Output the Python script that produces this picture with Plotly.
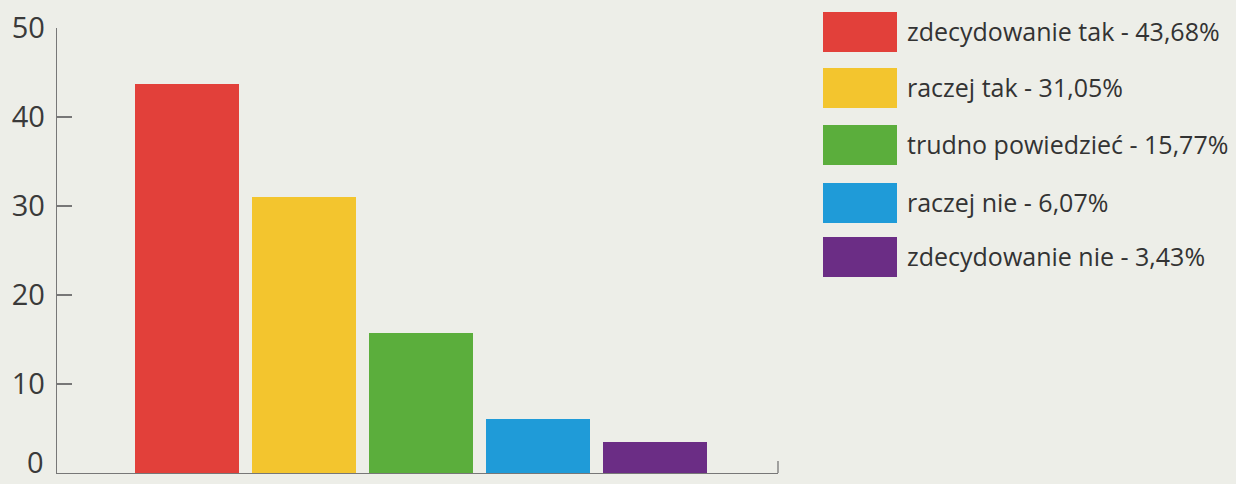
import plotly.graph_objects as go

categories = ["zdecydowanie tak", "raczej tak", "trudno powiedzieć", "raczej nie", "zdecydowanie nie"]
values = [43.68, 31.05, 15.77, 6.07, 3.43]
labels = ["43,68%", "31,05%", "15,77%", "6,07%", "3,43%"]
colors = ["#e2403a", "#f3c52e", "#5bae3c", "#1f9bd8", "#6b2d85"]
y_ticks = [10, 20, 30, 40, 50]
zero_label = "0"

W, H = 1236, 484
L, R, T, B = 57, 458, 28, 11
pw, ph = W - L - R, H - T - B
BG = "#edeee8"
TXT = "#3a3a3a"

def px_x(p):
    return (p - L) / pw

def px_y(p):
    return (H - B - p) / ph

fig = go.Figure()
fig.add_trace(go.Bar(
    x=list(range(len(categories))), y=values,
    marker=dict(color=colors, line=dict(width=0)),
    width=0.89, showlegend=False, hoverinfo="skip",
))

shapes = []
annotations = []
shapes.append(dict(type="line", xref="paper", yref="paper", x0=1, x1=1,
                   y0=0, y1=px_y(H - B - 12), line=dict(color="#777", width=1.3)))
# "0" tick label (annotation kept inside the figure's bottom edge)
annotations.append(dict(xref="paper", yref="paper", x=px_x(46), y=0, xanchor="right",
                        yanchor="bottom", showarrow=False, text=zero_label, yshift=-10,
                        font=dict(family="Open Sans", size=29, color=TXT)))
row_top = [12, 68, 125, 183, 237]
for i, (cat, lab, col) in enumerate(zip(categories, labels, colors)):
    t = row_top[i]
    shapes.append(dict(type="rect", xref="paper", yref="paper",
                       x0=px_x(823), x1=px_x(897), y0=px_y(t + 40), y1=px_y(t),
                       fillcolor=col, line=dict(width=0)))
    annotations.append(dict(xref="paper", yref="paper", x=px_x(905), y=px_y(t + 19),
                            xanchor="left", yanchor="middle", showarrow=False,
                            text=f"{cat} - {lab}",
                            font=dict(family="Open Sans", size=25, color="#333333")))

fig.update_layout(
    width=W, height=H,
    margin=dict(l=L, r=R, t=T, b=B, pad=0, autoexpand=False),
    paper_bgcolor=BG, plot_bgcolor=BG,
    shapes=shapes, annotations=annotations,
    xaxis=dict(range=[-1.11, 5.05], showticklabels=False, ticks="", showgrid=False,
               zeroline=False, showline=True, linecolor="#777", linewidth=1.3,
               fixedrange=True, automargin=False),
    yaxis=dict(range=[0, 50], tickvals=y_ticks, ticks="inside", ticklen=15,
               tickcolor="#777", tickwidth=1.3, showgrid=False, zeroline=False,
               showline=True, linecolor="#777", linewidth=1.3, automargin=False,
               tickfont=dict(family="Open Sans", size=29, color=TXT),
               ticklabelstandoff=5),
    bargap=0,
)
fig.write_html("out.html", config={"displayModeBar": False, "staticPlot": True},
               post_script=f"document.body.style.margin='0';document.body.style.background='{BG}';document.body.style.overflow='hidden';")
